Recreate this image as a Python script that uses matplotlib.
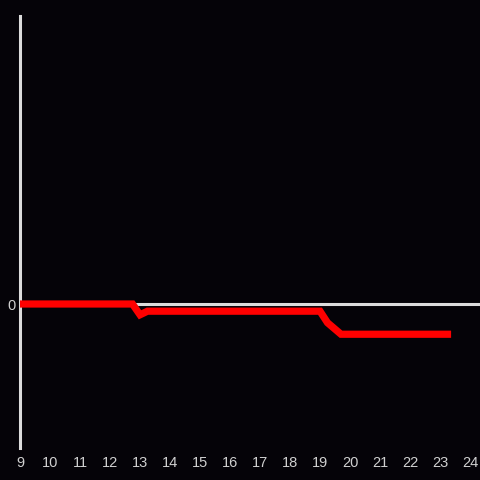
import matplotlib
matplotlib.use("Agg")
import matplotlib.pyplot as plt

hours = [9.0, 12.75, 13.0, 13.25, 19.0, 19.25, 19.7, 23.37]
values = [0.0, 0.0, -0.075, -0.05, -0.05, -0.13, -0.21, -0.21]
x_ticks = list(range(9, 25))
y_ticks = [0]

bg = "#050308"
axis_col = "#dcdcdc"
text_col = "#d0d0d0"

plt.rcParams["font.family"] = ["Liberation Sans", "DejaVu Sans"]
fig = plt.figure(figsize=(4.8, 4.8), dpi=100, facecolor=bg)
ax = fig.add_axes([20 / 480, 32 / 480, 460 / 480, 432 / 480], facecolor=bg)

ax.axhline(0, color=axis_col, lw=2.2, zorder=1)
ax.plot(hours, values, color="#ff0000", lw=5.2, solid_capstyle="butt",
        solid_joinstyle="miter", zorder=3)

ax.set_xlim(9, 24 + 1 / 3)
ax.set_ylim(-1, 2)
ax.set_xticks(x_ticks)
ax.set_xticklabels([str(t) for t in x_ticks])
ax.set_yticks(y_ticks)
ax.set_yticklabels(["0"])
ax.tick_params(axis="both", length=0, colors=text_col, labelsize=10.5)
ax.tick_params(axis="x", pad=6)
ax.tick_params(axis="y", pad=3)

for s in ["top", "right", "bottom"]:
    ax.spines[s].set_visible(False)
ax.spines["left"].set_color(axis_col)
ax.spines["left"].set_linewidth(2.2)

fig.savefig("out.png", dpi=100, facecolor=bg)
